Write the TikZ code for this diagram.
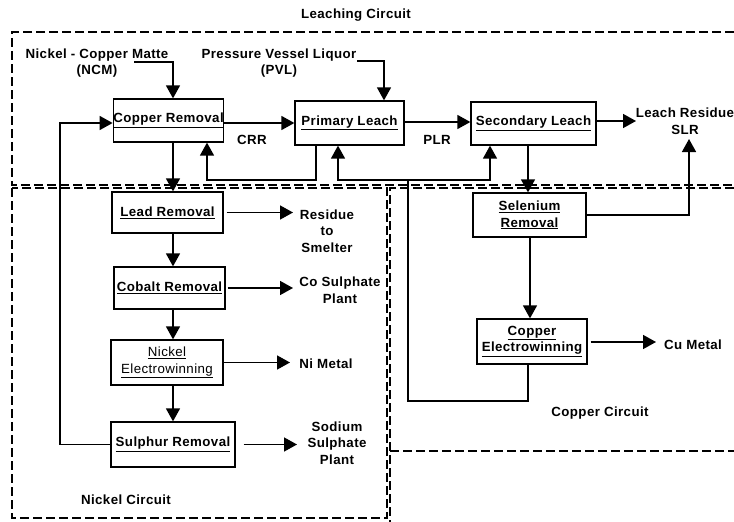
\documentclass[tikz,border=0pt]{standalone}
\usepackage{fontspec}
\setmainfont{Liberation Sans}[LetterSpace=3]
\usetikzlibrary{arrows.meta}
\begin{document}
\begin{tikzpicture}[x=1pt,y=-1pt,
  every node/.style={font=\fontsize{13.3}{16.5}\selectfont\bfseries, align=center, inner sep=0pt},
  box/.style={draw, line width=1.3pt},
  arr/.style={line width=1.5pt, -{Triangle[length=13pt,width=14pt]}},
  ln/.style={line width=1.5pt},
  circ/.style={line width=2.8pt, dash pattern=on 9pt off 4pt}]
\useasboundingbox (0,0) rectangle (734,522);

% circuit boundaries
\draw[circ] (734,32) -- (12,32) -- (12,185) -- (734,185);
\draw[circ] (12,188) rectangle (387,518);
\draw[circ] (734,188) -- (390,188) -- (390,522);
\draw[circ] (390,451) -- (734,451);

% boxes
\node[box, minimum width=109pt, minimum height=43pt] (cr) at (168.5,120.5) {\underline{Copper Removal}};
\node[box, minimum width=109pt, minimum height=44pt] (pl) at (349.5,123) {\underline{Primary Leach}};
\node[box, minimum width=125pt, minimum height=43pt] (sl) at (533.5,123.5) {\underline{Secondary Leach}};
\node[box, minimum width=111pt, minimum height=41pt] (lr) at (167.5,212.5) {\underline{Lead Removal}};
\node[box, minimum width=111pt, minimum height=42pt] (co) at (169.5,288) {\underline{Cobalt Removal}};
\node[box, minimum width=112pt, minimum height=45pt, font=\fontsize{13.3}{16.5}\selectfont\mdseries] (ni) at (167,362.5) {\underline{Nickel}\\\underline{Electrowinning}};
\node[box, minimum width=124pt, minimum height=45pt] (su) at (173,444.5) {\underline{Sulphur Removal}};
\node[box, minimum width=113pt, minimum height=44pt] (se) at (529.5,215) {\underline{Selenium}\\\underline{Removal}};
\node[box, minimum width=110pt, minimum height=45pt] (ce) at (532,341.5) {\underline{Copper}\\\underline{Electrowinning}};

% texts
\node (lc) at (356,15) {Leaching Circuit};
\node (ncm) at (97,63) {Nickel - Copper Matte\\(NCM)};
\node (pvl) at (279,63) {Pressure Vessel Liquor\\(PVL)};
\node (crr) at (252,140) {CRR};
\node (plr) at (437,140) {PLR};
\node (slr) at (685,121) {Leach Residue\\SLR};
\node (res) at (327,231) {Residue\\to\\Smelter};
\node (cos) at (340,290) {Co Sulphate\\Plant};
\node (nim) at (326,364) {Ni Metal};
\node (sod) at (337,443) {Sodium\\Sulphate\\Plant};
\node (cum) at (693,345) {Cu Metal};
\node (nic) at (126,500) {Nickel Circuit};
\node (cuc) at (600,413) {Copper Circuit};

% coordinates
\coordinate (c1) at (173,0);
\coordinate (c2) at (384,0);
\coordinate (c3) at (528,0);
\coordinate (c4) at (530,0);
\coordinate (c5) at (689,0);
\coordinate (fbA) at (316,0);
\coordinate (fbB) at (207,0);
\coordinate (fbC) at (338,0);
\coordinate (fbD) at (490,0);
\coordinate (fbE) at (408,0);
\coordinate (loopX) at (60,0);
\coordinate (r1) at (0,123);
\coordinate (r1b) at (0,122);
\coordinate (r1c) at (0,121);
\coordinate (fbY) at (0,180);
\coordinate (retY) at (0,401);
\coordinate (ncmE) at (134,62);
\coordinate (pvlE) at (357,61);
\coordinate (slrA) at (636,121);
\coordinate (slrB) at (689,139);
\coordinate (resA) at (293,212.5);
\coordinate (coA) at (293,288);
\coordinate (niA) at (290,362.5);
\coordinate (soA) at (297,444.5);
\coordinate (cuA) at (656,342);

% feeds
\draw[arr] (ncmE) -| (cr.north -| c1);
\draw[arr] (pvlE) -| (pl.north -| c2);

% main flow
\draw[arr] (cr.east |- r1) -- (pl.west |- r1);
\draw[arr] (pl.east |- r1b) -- (sl.west |- r1b);
\draw[arr] (sl.east |- r1c) -- (slrA);
\draw[arr] (cr.south -| c1) -- (lr.north -| c1);
\draw[arr] (lr.south -| c1) -- (co.north -| c1);
\draw[arr] (co.south -| c1) -- (ni.north -| c1);
\draw[arr] (ni.south -| c1) -- (su.north -| c1);
\draw[arr] (su.west) -| (loopX |- r1) -- (cr.west |- r1);
\draw[arr] (sl.south -| c3) -- (se.north -| c3);
\draw[arr] (se.south -| c4) -- (ce.north -| c4);
\draw[arr] (se.east) -| (slrB);

% recycles
\draw[arr] (pl.south -| fbA) |- (fbB |- fbY) -- (cr.south -| fbB);
\draw[ln] (ce.south -| c3) |- (fbE |- retY) -- (fbE |- fbY);
\draw[arr] (fbE |- fbY) -| (pl.south -| fbC);
\draw[arr] (fbE |- fbY) -| (sl.south -| fbD);

% products
\draw[arr] ([xshift=3pt]lr.east) -- (resA);
\draw[arr] ([xshift=2pt]co.east) -- (coA);
\draw[arr] (ni.east) -- (niA);
\draw[arr] ([xshift=8pt]su.east) -- (soA);
\draw[arr] ([xshift=3pt]ce.east |- cuA) -- (cuA);
\end{tikzpicture}
\end{document}
